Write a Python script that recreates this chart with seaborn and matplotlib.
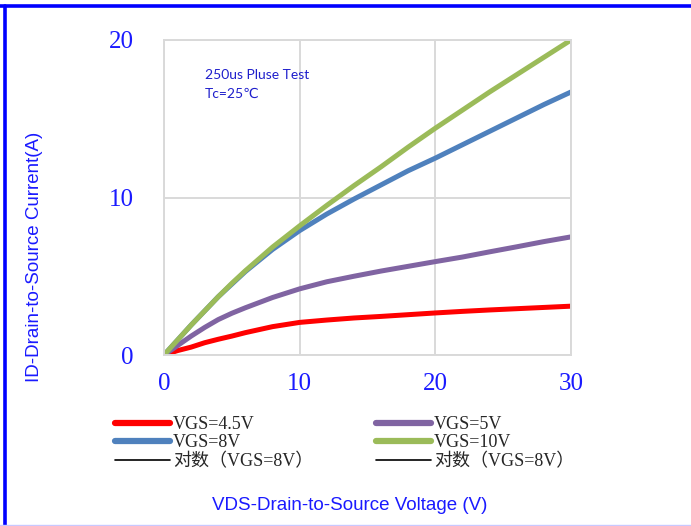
import matplotlib
matplotlib.use("Agg")
import matplotlib.pyplot as plt
import numpy as np
import pandas as pd
import seaborn as sns
from matplotlib.lines import Line2D

vds = [0, 1, 2, 3, 4, 5, 6, 8, 10, 12, 14, 16, 18, 20, 22, 24, 26, 28, 30]
id_45v = [0, 0.28, 0.5, 0.78, 1.0, 1.2, 1.42, 1.8, 2.07, 2.22, 2.35, 2.45, 2.56, 2.67, 2.77, 2.86, 2.94, 3.02, 3.1]
id_5v = [0, 0.6, 1.2, 1.75, 2.25, 2.65, 3.0, 3.65, 4.2, 4.65, 5.0, 5.33, 5.63, 5.93, 6.22, 6.55, 6.87, 7.2, 7.5]
id_8v = [0, 0.95, 1.9, 2.8, 3.7, 4.5, 5.3, 6.7, 7.9, 8.95, 9.9, 10.8, 11.7, 12.5, 13.35, 14.2, 15.05, 15.9, 16.7]
id_10v = [0, 0.95, 1.9, 2.8, 3.7, 4.55, 5.35, 6.85, 8.2, 9.5, 10.75, 11.95, 13.2, 14.4, 15.55, 16.7, 17.8, 18.9, 20.0]

series = ["VGS=4.5V", "VGS=5V", "VGS=8V", "VGS=10V"]
colors = ["#FF0000", "#8064A2", "#4F81BD", "#9BBB59"]
trend_label = "对数（VGS=8V）"

df = pd.DataFrame({
    "VDS": vds * 4,
    "ID": id_45v + id_5v + id_8v + id_10v,
    "VGS": [s for s in series for _ in vds],
})

sns.set_style("white")
plt.rcParams["font.family"] = ["Liberation Serif", "Noto Sans CJK SC"]

blue_txt = "#1a1aff"
fig = plt.figure(figsize=(6.91, 5.26), dpi=100)
ax = fig.add_axes([164 / 691, 1 - 355 / 526, (571 - 164) / 691, (355 - 40) / 526])

sns.lineplot(data=df, x="VDS", y="ID", hue="VGS", palette=dict(zip(series, colors)),
             linewidth=3.6, legend=False, ax=ax, solid_capstyle="round")

ax.set_xlim(0, 30)
ax.set_ylim(0, 20)
ax.set_xticks([0, 10, 20, 30])
ax.set_yticks([0, 10, 20])
ax.grid(True, color="#d9d9d9", linewidth=1.4)
ax.set_axisbelow(True)
for side in ax.spines:
    ax.spines[side].set_color("#d9d9d9")
    ax.spines[side].set_linewidth(1.4)
ax.tick_params(axis="both", length=0, labelsize=18, labelcolor=blue_txt)
ax.tick_params(axis="y", pad=22)
ax.tick_params(axis="x", pad=13)
ax.set_xlabel("")
ax.set_ylabel("")

fig.text(35 / 691, 1 - 257 / 526, "ID-Drain-to-Source Current(A)", rotation=90,
         ha="center", va="center", color=blue_txt, fontsize=13.5, family="Liberation Sans")
fig.text(350 / 691, 1 - 505 / 526, "VDS-Drain-to-Source Voltage (V)",
         ha="center", va="center", color=blue_txt, fontsize=13.5, family="Liberation Sans")

ax.text(205 / 691, 1 - 75 / 526, "250us Pluse Test", transform=fig.transFigure,
        ha="left", va="center", color="#1f1fcc", fontsize=10, family="Lato")
ax.text(205 / 691, 1 - 94 / 526, "Tc=25℃", transform=fig.transFigure,
        ha="left", va="center", color="#1f1fcc", fontsize=10, family=["Lato", "DejaVu Sans"])

h = [Line2D([], [], color=c, linewidth=4.5, solid_capstyle="round") for c in colors]
trend = Line2D([], [], color="black", linewidth=1.2)
handles = [h[0], h[2], trend, h[1], h[3], trend]
labels = [series[0], series[2], trend_label, series[1], series[3], trend_label]
fig.legend(handles, labels, ncol=2, loc="upper left", bbox_to_anchor=(115 / 691, 1 - 416 / 526),
           frameon=False, fontsize=13, handlelength=3.05, handletextpad=0.15,
           columnspacing=3.5, labelspacing=0.08, borderaxespad=0, borderpad=0)

# slide frame
fig.add_artist(Line2D([0, 1], [1 - 5.5 / 526] * 2, color="#0000FF", linewidth=2.6))
fig.add_artist(Line2D([4.5 / 691] * 2, [0, 1 - 5.5 / 526], color="#0000FF", linewidth=2.6))
fig.add_artist(Line2D([0, 1], [1.5 / 526] * 2, color="#c8c8ff", linewidth=1))

fig.savefig("out.png", dpi=100)
